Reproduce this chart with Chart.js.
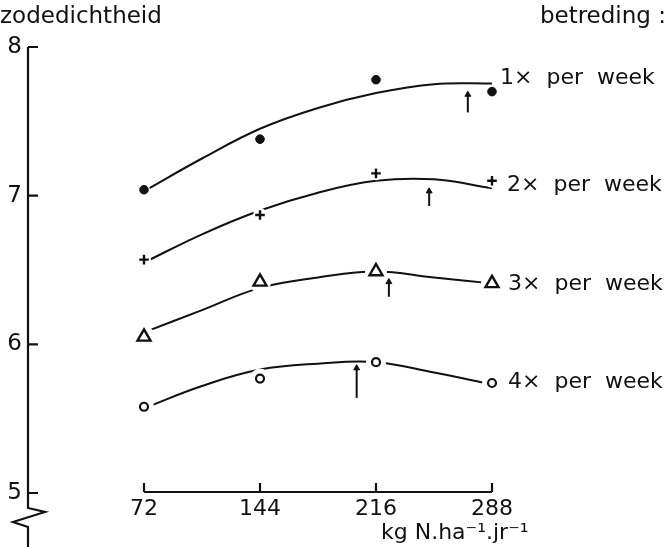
<!DOCTYPE html>
<html><head><meta charset="utf-8">
<script src="https://cdn.jsdelivr.net/npm/chart.js@4.4.1/dist/chart.umd.min.js"></script>
<style>html,body{margin:0;padding:0;background:#fff;} #wrap{width:667px;height:547px;position:relative;}</style>
</head><body><div id="wrap"><canvas id="c" width="667" height="547"></canvas></div>
<script>
// ---- data ----
const xCategories = [72, 144, 216, 288];
const yTickValues = [5, 6, 7, 8];
const seriesLabels = ['1×  per  week', '2×  per  week', '3×  per  week', '4×  per  week'];
const obs1 = [7.04, 7.38, 7.78, 7.70];
const obs2 = [6.57, 6.87, 7.15, 7.10];
const obs3 = [6.05, 6.42, 6.49, 6.41];
const obs4 = [5.58, 5.77, 5.88, 5.74];
const curveX = [72, 108, 144, 180, 216, 252, 288];
const fit1 = [7.03, 7.25, 7.45, 7.59, 7.69, 7.75, 7.755];
const fit2 = [6.55, 6.74, 6.90, 7.02, 7.10, 7.11, 7.05];
const fit3 = [6.08, 6.23, 6.38, 6.45, 6.49, 6.45, 6.41];
const fit4 = [5.57, 5.72, 5.83, 5.87, 5.88, 5.81, 5.73];
const arrowX = [273, 249, 224, 204];
const arrowTop = [7.68, 7.03, 6.42, 5.84];
const arrowBottom = [7.56, 6.93, 6.32, 5.64];
const yTitle = 'zodedichtheid';
const legendTitle = 'betreding :';
const xTitle = 'kg N.ha⁻¹.jr⁻¹';

const ink = '#111';
const pts = (xs, ys) => xs.map((x, i) => ({x: x, y: ys[i]}));
const obs = [obs1, obs2, obs3, obs4];
const fits = [fit1, fit2, fit3, fit4];
const markerStyles = [
  {pointStyle: 'circle', pointRadius: 4.3, pointBackgroundColor: ink, pointBorderColor: ink, pointBorderWidth: 1},
  {pointStyle: 'cross', pointRadius: 4.8, pointBackgroundColor: ink, pointBorderColor: ink, pointBorderWidth: 2.4},
  {pointStyle: 'triangle', pointRadius: 7.5, pointBackgroundColor: '#fff', pointBorderColor: ink, pointBorderWidth: 2.4},
  {pointStyle: 'circle', pointRadius: 4, pointBackgroundColor: '#fff', pointBorderColor: ink, pointBorderWidth: 2.2}
];
const haloR = [6, 7, 11, 10];

const datasets = [];
fits.forEach((f, i) => datasets.push({
  label: seriesLabels[i] + ' curve', data: pts(curveX, f), showLine: true, borderColor: ink,
  borderWidth: 2, pointRadius: 0, tension: 0.4, clip: false, order: 5
}));
obs.forEach((o, i) => datasets.push({
  label: 'halo', data: pts(xCategories, o), showLine: false, pointRadius: haloR[i],
  pointBackgroundColor: '#fff', pointBorderWidth: 0, pointBorderColor: '#fff', clip: false, order: 4
}));
obs.forEach((o, i) => datasets.push(Object.assign({
  label: seriesLabels[i], data: pts(xCategories, o), showLine: false, clip: false, order: 1
}, markerStyles[i])));
arrowX.forEach((ax, i) => datasets.push({
  label: 'optimum', data: [{x: ax, y: arrowBottom[i]}, {x: ax, y: arrowTop[i]}], showLine: true,
  borderColor: ink, borderWidth: 2, pointStyle: 'triangle', pointRadius: [0, 3.4],
  pointBackgroundColor: ink, pointBorderColor: ink, pointBorderWidth: 1, clip: false, order: 2
}));

const decor = {
  id: 'decor',
  afterDraw(chart) {
    const ctx = chart.ctx, x = chart.scales.x, y = chart.scales.y;
    const ax = chart.chartArea.left;
    const yTop = y.getPixelForValue(yTickValues[yTickValues.length - 1]);
    const y5 = y.getPixelForValue(yTickValues[0]);
    ctx.save();
    ctx.strokeStyle = ink; ctx.fillStyle = ink; ctx.lineWidth = 2.2; ctx.lineJoin = 'miter';
    // y axis with break symbol
    ctx.beginPath();
    ctx.moveTo(ax, yTop); ctx.lineTo(ax, y5 + 15); ctx.lineTo(ax + 17, y5 + 19);
    ctx.lineTo(ax - 15, y5 + 29); ctx.lineTo(ax, y5 + 34); ctx.lineTo(ax, chart.height);
    yTickValues.forEach(v => { const py = y.getPixelForValue(v); ctx.moveTo(ax, py); ctx.lineTo(ax + 10, py); });
    ctx.stroke();
    // x axis
    const xa = y5 - 1;
    ctx.beginPath();
    ctx.moveTo(x.getPixelForValue(xCategories[0]), xa);
    ctx.lineTo(x.getPixelForValue(xCategories[xCategories.length - 1]), xa);
    xCategories.forEach(v => { const px = x.getPixelForValue(v); ctx.moveTo(px, xa); ctx.lineTo(px, xa - 9); });
    ctx.stroke();
    // titles
    ctx.font = '23px "DejaVu Sans"';
    ctx.textBaseline = 'middle';
    ctx.textAlign = 'left'; ctx.fillText(yTitle, 0, 17);
    ctx.textAlign = 'right'; ctx.fillText(legendTitle, 666, 17);
    ctx.font = '22px "DejaVu Sans"';
    ctx.textAlign = 'left'; ctx.fillText(xTitle, 381, 533);
    // series labels next to last marker
    ctx.font = '22px "DejaVu Sans"';
    const off = [[8, -13], [15, 4], [16, 1], [16, -1]];
    obs.forEach((o, i) => {
      const px = x.getPixelForValue(xCategories[xCategories.length - 1]);
      const py = y.getPixelForValue(o[o.length - 1]);
      ctx.fillText(seriesLabels[i], px + off[i][0], py + off[i][1]);
    });
    ctx.restore();
  }
};

new Chart(document.getElementById('c'), {
  type: 'scatter',
  data: {datasets: datasets},
  options: {
    responsive: false, animation: false, events: [],
    layout: {padding: {left: 0, right: 175, top: 47, bottom: 0}},
    plugins: {legend: {display: false}, tooltip: {enabled: false}, title: {display: false}},
    scales: {
      x: {
        type: 'linear', min: 0, max: 288,
        afterFit(s) { s.height = 54; },
        afterBuildTicks(s) { s.ticks = xCategories.map(v => ({value: v})); },
        grid: {display: false, drawTicks: false}, border: {display: false},
        ticks: {color: ink, padding: 3, maxRotation: 0, autoSkip: false, font: {family: 'DejaVu Sans', size: 22}}
      },
      y: {
        type: 'linear', min: 5, max: 8,
        afterFit(s) { s.width = 28; },
        afterBuildTicks(s) { s.ticks = yTickValues.map(v => ({value: v})); },
        grid: {display: false, drawTicks: false}, border: {display: false},
        ticks: {color: ink, padding: 6, font: {family: 'DejaVu Sans', size: 23}}
      }
    }
  },
  plugins: [decor]
});
</script></body></html>
